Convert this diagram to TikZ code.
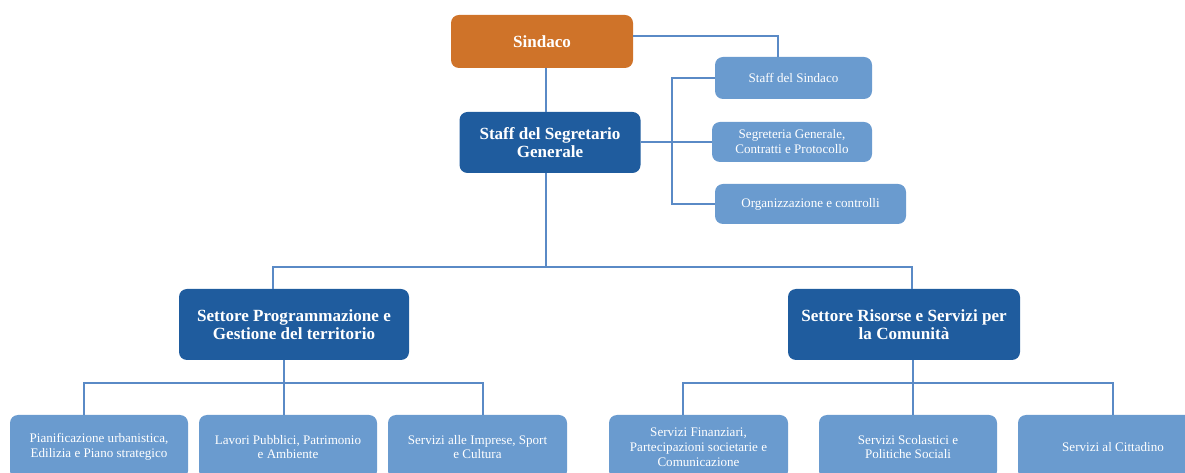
\documentclass[tikz,border=0pt]{standalone}
\usepackage{fontspec}
\setmainfont{Liberation Serif}
\definecolor{orangebox}{HTML}{CF7329}
\definecolor{darkbox}{HTML}{1F5C9E}
\definecolor{lightbox}{HTML}{6A9BCF}
\definecolor{linkcol}{HTML}{5A8AC6}
\tikzset{
  base/.style={rounded corners=6pt, text=white, align=center, inner sep=0pt, draw=none},
  topbox/.style={base, fill=orangebox, font=\fontsize{12.8}{13.8}\selectfont\bfseries},
  headbox/.style={base, fill=darkbox, font=\fontsize{12.8}{13.8}\selectfont\bfseries},
  subbox/.style={base, fill=lightbox, font=\fontsize{9.8}{11.2}\selectfont},
  link/.style={draw=linkcol, line width=1.1pt}
}
\begin{document}
\begin{tikzpicture}[x=0.75pt, y=-0.75pt]
\clip (0,0) rectangle (1185,473);
% nodes
\node[topbox, minimum width=182*0.75pt, minimum height=53*0.75pt] (sind) at (542,41.5) {Sindaco};
\node[headbox, minimum width=181*0.75pt, minimum height=61*0.75pt] (ssg) at (550,142.5) {Staff del Segretario\\Generale};
\node[subbox, minimum width=157*0.75pt, minimum height=42*0.75pt] (sds) at (793.5,78) {Staff del Sindaco};
\node[subbox, minimum width=160*0.75pt, minimum height=40*0.75pt] (seg) at (792,142) {Segreteria Generale,\\Contratti e Protocollo};
\node[subbox, minimum width=191*0.75pt, minimum height=40*0.75pt] (org) at (810.5,204) {Organizzazione e controlli};
\node[headbox, minimum width=230*0.75pt, minimum height=71*0.75pt] (sp) at (294,324.5) {Settore Programmazione e\\Gestione del territorio};
\node[headbox, minimum width=232*0.75pt, minimum height=71*0.75pt] (sr) at (904,324.5) {Settore Risorse e Servizi per\\la Comunità};
\node[subbox, minimum width=178*0.75pt, minimum height=64*0.75pt] (b1) at (99,447) {Pianificazione urbanistica,\\Edilizia e Piano strategico};
\node[subbox, minimum width=178*0.75pt, minimum height=64*0.75pt] (b2) at (288,447) {Lavori Pubblici, Patrimonio\\e Ambiente};
\node[subbox, minimum width=179*0.75pt, minimum height=64*0.75pt] (b3) at (477.5,447) {Servizi alle Imprese, Sport\\e Cultura};
\node[subbox, minimum width=179*0.75pt, minimum height=64*0.75pt] (b4) at (698.5,447) {Servizi Finanziari,\\Partecipazioni societarie e\\Comunicazione};
\node[subbox, minimum width=178*0.75pt, minimum height=64*0.75pt] (b5) at (908,447) {Servizi Scolastici e\\Politiche Sociali};
\node[subbox, minimum width=190*0.75pt, minimum height=64*0.75pt] (b6) at (1113,447) {Servizi al Cittadino};
% branch coordinates
\coordinate (c1) at (546,0);
\coordinate (c2) at (778,36);
\coordinate (c3) at (672,0);
\coordinate (busA) at (546,267);
\coordinate (busAl) at (273,267);
\coordinate (busAr) at (912,267);
\coordinate (busB) at (284,383);
\coordinate (busBl) at (84,383);
\coordinate (busBr) at (483,383);
\coordinate (busC) at (913,383);
\coordinate (busCl) at (683,383);
\coordinate (busCr) at (1113,383);
% connectors
\draw[link] (sind.south -| c1) -- (ssg.north -| c1);
\draw[link] (sind.east |- c2) -- (c2) -- (c2 |- sds.north);
\draw[link] (ssg.east |- seg.west) -- (seg.west);
\draw[link] (sds.west) -- (sds.west -| c3) -- (org.west -| c3) -- (org.west);
\draw[link] (ssg.south -| busA) -- (busA);
\draw[link] (busAl |- sp.north) -- (busAl) -- (busAr) -- (busAr |- sr.north);
\draw[link] (sp.south -| busB) -- (busB);
\draw[link] (busBl |- b1.north) -- (busBl) -- (busBr) -- (busBr |- b3.north);
\draw[link] (busB) -- (busB |- b2.north);
\draw[link] (sr.south -| busC) -- (busC);
\draw[link] (busCl |- b4.north) -- (busCl) -- (busCr) -- (busCr |- b6.north);
\draw[link] (busC) -- (busC |- b5.north);
\end{tikzpicture}
\end{document}
